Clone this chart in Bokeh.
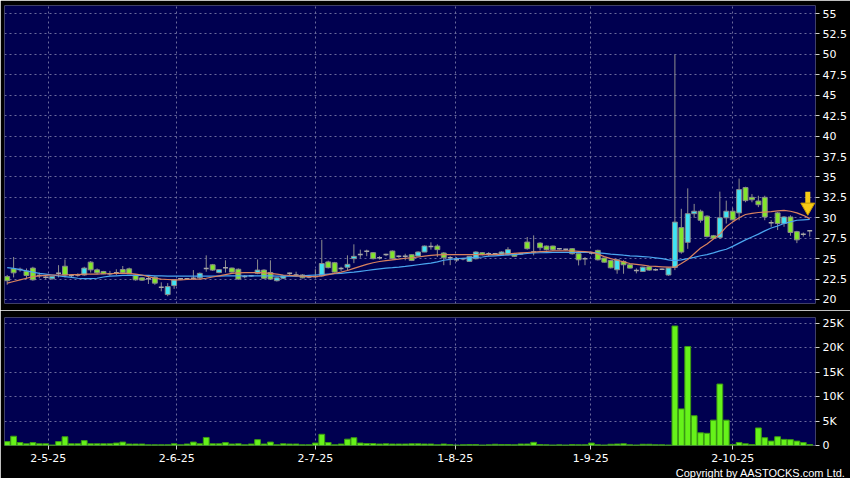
from bokeh.plotting import figure
from bokeh.layouts import column
from bokeh.models import (Range1d, FixedTicker, Grid, Title, ColumnDataSource,
                          NumeralTickFormatter)
from bokeh.embed import file_html
from bokeh.resources import INLINE

# ---------------- data ----------------
tick_pos = [6.4, 26.4, 48, 69.8, 90.9, 113]
tick_labels = ["2-5-25", "2-6-25", "2-7-25", "1-8-25", "1-9-25", "2-10-25"]

opens = [22.8, 23.75, 23.67, 23.47, 23.84, 22.94, 22.73, 22.53, 23.2, 24.07,
         22.94, 23.0, 23.0, 24.57, 23.63, 23.43, 23.14, 23.26, 23.67, 23.75,
         23.0, 22.65, 22.53, 22.73, 21.5, 20.6, 21.7, 22.53, 22.53, 22.6,
         22.65, 23.8, 24.25, 23.3, 23.9, 23.85, 23.7, 22.8, 22.9, 23.2,
         23.6, 23.3, 22.3, 22.6, 23.2, 23.0, 23.0, 22.75, 22.8, 22.9,
         24.6, 24.5, 23.8, 23.95, 25.0, 25.5, 25.9, 25.73, 25.1, 25.5,
         25.93, 25.3, 25.3, 25.48, 25.32, 25.81, 26.5, 26.54, 25.69, 25.1,
         24.86, 25.0, 24.66, 24.99, 25.73, 25.6, 25.6, 25.48, 25.48, 25.6,
         25.6, 27.03, 25.8, 26.9, 26.54, 26.54, 26.2, 26.14, 26.22, 25.6,
         25.0, 25.7, 26.01, 25.07, 24.78, 23.64, 24.66, 24.25, 23.56, 23.43,
         24.0, 23.65, 23.7, 23.0, 23.93, 28.8, 27.0, 30.5, 30.8, 30.2,
         27.8, 27.6, 30.0, 30.8, 30.6, 33.7, 32.5, 32.05, 32.5, 29.4,
         30.6, 29.3, 30.1, 28.3, 28.0, 28.4]
highs = [23.0, 25.2, 23.9, 23.8, 24.0, 23.3, 23.0, 22.9, 24.2, 24.9,
         23.1, 23.2, 24.0, 24.7, 23.8, 23.5, 23.5, 23.7, 24.1, 23.9,
         23.1, 22.7, 22.8, 22.9, 22.1, 22.0, 22.5, 22.6, 22.6, 23.6,
         23.3, 25.4, 24.35, 23.7, 24.8, 23.9, 23.8, 23.0, 23.0, 24.9,
         23.7, 24.8, 22.7, 23.0, 23.3, 23.4, 23.1, 22.9, 23.7, 27.3,
         24.75, 24.6, 24.0, 25.4, 26.75, 26.1, 26.1, 25.8, 25.3, 25.6,
         26.0, 25.4, 25.6, 25.5, 25.9, 26.6, 27.0, 26.75, 25.8, 25.3,
         25.2, 25.1, 25.3, 25.9, 25.8, 25.8, 25.7, 25.9, 26.4, 25.7,
         25.7, 27.65, 27.85, 27.0, 26.6, 26.6, 26.3, 26.2, 26.3, 25.6,
         25.2, 25.8, 26.1, 25.1, 24.8, 24.9, 24.8, 24.3, 23.8, 24.0,
         24.1, 23.8, 23.8, 23.9, 50.0, 31.1, 33.6, 31.7, 31.0, 30.3,
         27.9, 33.2, 32.1, 31.2, 34.8, 33.8, 32.9, 32.7, 32.7, 29.7,
         30.7, 30.2, 30.3, 28.4, 28.2, 28.5]
lows = [21.8, 22.7, 23.4, 22.5, 22.3, 22.6, 22.5, 22.45, 22.7, 22.7,
        22.7, 22.8, 22.9, 23.3, 23.1, 23.1, 22.9, 23.0, 23.2, 23.1,
        22.3, 22.3, 21.9, 21.8, 21.0, 20.4, 21.3, 22.4, 22.4, 22.4,
        22.5, 23.4, 23.5, 23.2, 23.3, 23.3, 22.4, 22.6, 22.8, 23.1,
        22.5, 22.4, 22.2, 22.5, 23.0, 22.8, 22.6, 22.6, 22.6, 22.8,
        23.8, 23.3, 23.5, 23.6, 24.45, 25.1, 25.3, 24.9, 24.9, 25.3,
        24.9, 25.1, 24.8, 24.7, 25.3, 25.8, 26.1, 25.2, 24.2, 24.2,
        24.6, 24.8, 24.6, 24.9, 25.4, 25.3, 25.5, 25.4, 25.4, 25.2,
        25.5, 26.1, 25.4, 26.0, 26.0, 26.0, 26.1, 26.0, 25.5, 24.17,
        24.2, 25.5, 24.78, 24.5, 23.8, 23.15, 23.15, 23.8, 23.2, 23.4,
        23.5, 23.5, 23.6, 22.9, 23.6, 25.6, 26.2, 30.0, 29.4, 27.6,
        27.4, 27.4, 29.3, 29.7, 29.7, 31.9, 31.9, 31.3, 29.7, 28.9,
        28.5, 28.9, 27.8, 26.9, 27.7, 27.7]
closes = [22.3, 23.26, 23.67, 22.94, 22.41, 22.94, 22.73, 22.82, 23.2, 23.0,
          22.94, 23.0, 23.84, 23.63, 23.26, 23.14, 23.14, 23.26, 23.26, 23.14,
          22.41, 22.37, 22.53, 22.0, 21.5, 21.58, 22.41, 22.53, 22.53, 22.6,
          23.2, 23.8, 23.6, 23.65, 23.9, 23.35, 22.5, 22.8, 22.9, 23.6,
          22.6, 22.5, 22.65, 22.9, 23.2, 23.0, 22.65, 22.75, 22.8, 24.4,
          23.9, 23.35, 23.8, 24.3, 25.28, 25.5, 25.9, 25.0, 25.1, 25.5,
          25.0, 25.3, 25.3, 24.78, 25.81, 26.54, 26.5, 26.1, 25.11, 25.1,
          24.86, 25.0, 25.28, 25.81, 25.48, 25.6, 25.6, 25.81, 26.1, 25.28,
          25.6, 26.22, 25.8, 26.34, 26.1, 26.1, 26.2, 26.14, 25.6, 24.86,
          25.0, 25.7, 24.86, 24.57, 23.88, 24.86, 24.25, 23.84, 23.56, 23.96,
          23.6, 23.65, 23.7, 23.85, 29.47, 25.8, 30.5, 30.8, 29.7, 27.7,
          27.5, 30.0, 30.8, 29.75, 33.45, 32.1, 32.2, 31.6, 30.1, 29.4,
          29.3, 30.1, 28.2, 27.3, 28.0, 28.4]

ma_short = [22.0, 22.2, 22.4, 22.6, 22.8, 22.9, 22.95, 23.0, 23.0, 23.0,
            23.05, 23.05, 23.1, 23.1, 23.1, 23.15, 23.15, 23.2, 23.2, 23.2,
            23.1, 23.0, 22.8, 22.6, 22.5, 22.45, 22.4, 22.4, 22.45, 22.5,
            22.5, 22.6, 22.75, 22.9, 23.05, 23.2, 23.25, 23.3, 23.3, 23.3,
            23.25, 23.2, 23.1, 23.0, 22.95, 22.9, 22.85, 22.8, 22.8, 22.9,
            23.05, 23.2, 23.35, 23.55, 23.8, 24.05, 24.3, 24.5, 24.65, 24.75,
            24.85, 24.95, 25.05, 25.1, 25.2, 25.3, 25.4, 25.45, 25.5, 25.5,
            25.5, 25.5, 25.5, 25.5, 25.5, 25.5, 25.5, 25.55, 25.6, 25.65,
            25.7, 25.75, 25.8, 25.85, 25.9, 25.95, 25.95, 25.95, 25.95, 25.9,
            25.85, 25.8, 25.55, 25.25, 25.0, 24.8, 24.6, 24.4, 24.3, 24.2,
            24.1, 24.05, 24.0, 23.95, 23.95, 24.4, 24.9, 25.6, 26.3, 26.8,
            27.4, 28.0, 28.9, 29.5, 30.0, 30.4, 30.55, 30.65, 30.7, 30.75,
            30.85, 30.9, 30.8, 30.6, 30.3, 29.9]
ma_long = [23.9, 23.8, 23.65, 23.5, 23.35, 23.2, 23.1, 23.0, 22.9, 22.8,
           22.7, 22.6, 22.55, 22.55, 22.6, 22.75, 22.85, 22.9, 22.95, 22.95,
           22.95, 22.95, 22.95, 22.9, 22.9, 22.85, 22.85, 22.85, 22.85, 22.85,
           22.85, 22.85, 22.85, 22.85, 22.9, 22.9, 22.9, 22.9, 22.9, 22.9,
           22.9, 22.9, 22.85, 22.85, 22.85, 22.85, 22.9, 22.95, 23.0, 23.05,
           23.1, 23.15, 23.2, 23.3, 23.35, 23.45, 23.55, 23.65, 23.75, 23.85,
           23.9, 23.96, 24.05, 24.15, 24.25, 24.35, 24.45, 24.6, 24.8, 24.9,
           25.0, 25.05, 25.1, 25.15, 25.2, 25.3, 25.35, 25.4, 25.45, 25.5,
           25.55, 25.65, 25.7, 25.72, 25.74, 25.75, 25.75, 25.75, 25.75, 25.75,
           25.75, 25.75, 25.7, 25.65, 25.55, 25.5, 25.42, 25.35, 25.3, 25.25,
           25.2, 25.1, 25.0, 24.85, 24.75, 24.85, 25.0, 25.15, 25.35, 25.5,
           25.7, 25.95, 26.15, 26.5, 26.9, 27.3, 27.65, 28.0, 28.4, 28.75,
           29.0, 29.3, 29.5, 29.7, 29.75, 29.8]

vol_k = [0.8, 1.9, 0.6, 0.35, 0.6, 0.35, 0.35, 0.1, 0.8, 1.8,
         0.35, 0.35, 1.0, 0.35, 0.35, 0.35, 0.35, 0.5, 0.7, 0.3,
         0.3, 0.3, 0.15, 0.15, 0.15, 0.15, 0.35, 0.15, 0.3, 0.7,
         0.35, 1.65, 0.35, 0.35, 0.6, 0.3, 0.35, 0.15, 0.3, 1.2,
         0.3, 0.7, 0.15, 0.35, 0.3, 0.3, 0.15, 0.15, 0.5, 2.3,
         0.6, 0.15, 0.3, 1.3, 1.6, 0.5, 0.4, 0.4, 0.3, 0.35,
         0.3, 0.3, 0.3, 0.35, 0.35, 0.3, 0.3, 0.15, 0.3, 0.2,
         0.1, 0.15, 0.2, 0.2, 0.1, 0.15, 0.25, 0.2, 0.2, 0.15,
         0.3, 0.3, 0.65, 0.2, 0.15, 0.1, 0.15, 0.1, 0.2, 0.15,
         0.15, 0.5, 0.15, 0.1, 0.25, 0.3, 0.35, 0.15, 0.1, 0.25,
         0.25, 0.15, 0.15, 0.1, 24.5, 7.5, 20.3, 6.1, 2.6, 2.5,
         5.2, 12.6, 5.2, 0.2, 0.6, 0.35, 0.2, 3.6, 1.6, 0.9,
         1.8, 1.25, 1.2, 0.9, 0.6, 0.2]

price_ticks = [20, 22.5, 25, 27.5, 30, 32.5, 35, 37.5, 40, 42.5, 45, 47.5, 50, 52.5, 55]
vol_ticks = [0, 5, 10, 15, 20, 25]
vol_tick_labels = ["0", "5K", "10K", "15K", "20K", "25K"]

# arrow marker (annotation) position
arrow_idx = 124.7
arrow_top = 33.2
arrow_head = 31.3

# ---------------- styles ----------------
BG = "#000050"
OUT = "#000000"
GRID = "#6a6a9c"
UP = "#3fe3f3"
DOWN = "#82e62c"
FLAT = "#a8a8a8"
FONT = "DejaVu Sans"

n = len(closes)
xs = list(range(n))
body = dict(x=[], top=[], bottom=[], color=[])
doji = dict(x0=[], x1=[], y=[])
for i in xs:
    o, c = opens[i], closes[i]
    if o == c:
        doji["x0"].append(i - 0.38)
        doji["x1"].append(i + 0.38)
        doji["y"].append(c)
    else:
        body["x"].append(i)
        body["top"].append(max(o, c))
        body["bottom"].append(min(o, c))
        body["color"].append(UP if c > o else DOWN)

xr = Range1d(-0.42, 125.9)


def style(p):
    p.background_fill_color = BG
    p.border_fill_color = OUT
    p.outline_line_color = None
    p.yaxis.axis_line_color = None
    p.yaxis.major_tick_line_color = "#d0d0d0"
    p.yaxis.major_tick_out = 4
    p.yaxis.major_tick_in = 0
    p.yaxis.minor_tick_line_color = None
    p.yaxis.major_label_text_color = "#ffffff"
    p.yaxis.major_label_text_font = FONT
    p.yaxis.major_label_text_font_size = "11px"
    p.yaxis.major_label_standoff = 3
    p.ygrid.grid_line_color = GRID
    p.ygrid.grid_line_dash = "2 3"
    p.ygrid.grid_line_width = 1
    p.xgrid.visible = False
    p.add_layout(Grid(dimension=0, ticker=FixedTicker(ticks=tick_pos),
                      grid_line_color=GRID, grid_line_dash="2 3", grid_line_width=1))


# ---------------- price panel ----------------
p1 = figure(width=850, height=310, x_range=xr, y_range=Range1d(19.51, 55.98),
            output_backend="svg", toolbar_location=None,
            x_axis_location=None, y_axis_location="right",
            min_border_left=4, min_border_right=35, min_border_top=5, min_border_bottom=7)
style(p1)
p1.yaxis.ticker = FixedTicker(ticks=price_ticks)
p1.yaxis.formatter = NumeralTickFormatter(format="0.[0]")

p1.segment(x0=xs, y0=lows, x1=xs, y1=highs, line_color="#8e8e8e", line_width=1)
p1.vbar(x="x", top="top", bottom="bottom", width=0.76, fill_color="color",
        line_color="#8a8a8a", line_width=1, source=ColumnDataSource(body))
p1.segment(x0="x0", y0="y", x1="x1", y1="y", line_color=FLAT, line_width=1.5,
           source=ColumnDataSource(doji))
p1.line(xs, ma_long, line_color="#4aa6f0", line_width=1.2)
p1.line(xs, ma_short, line_color="#d9825e", line_width=1.2)

# yellow arrow
p1.segment(x0=[arrow_idx], y0=[arrow_top], x1=[arrow_idx], y1=[arrow_head + 0.4],
           line_color="#f7cb16", line_width=5)
p1.scatter([arrow_idx], [arrow_head], marker="inverted_triangle", size=14,
           fill_color="#f7cb16", line_color="#c89a00", line_width=1)

# ---------------- volume panel ----------------
p2 = figure(width=850, height=168, x_range=xr, y_range=Range1d(0, 26.24),
            output_backend="svg", toolbar_location=None,
            y_axis_location="right",
            min_border_left=4, min_border_right=35, min_border_top=7, min_border_bottom=0)
style(p2)
p2.yaxis.ticker = FixedTicker(ticks=vol_ticks)
p2.yaxis.major_label_overrides = {t: l for t, l in zip(vol_ticks, vol_tick_labels)}
p2.xaxis.ticker = FixedTicker(ticks=tick_pos)
p2.xaxis.major_label_overrides = {t: l for t, l in zip(tick_pos, tick_labels)}
p2.xaxis.axis_line_color = None
p2.xaxis.major_tick_line_color = "#d0d0d0"
p2.xaxis.major_tick_out = 4
p2.xaxis.major_tick_in = 0
p2.xaxis.minor_tick_line_color = None
p2.xaxis.major_label_text_color = "#ffffff"
p2.xaxis.major_label_text_font = FONT
p2.xaxis.major_label_text_font_size = "11px"
p2.xaxis.major_label_standoff = 4

p2.vbar(x=xs, top=vol_k, width=0.9, fill_color="#66f21a", line_color="#3c9c12", line_width=1)

p2.add_layout(Title(text="Copyright by AASTOCKS.com Ltd.", align="right",
                    text_color="#ffffff", text_font="Liberation Sans",
                    text_font_size="11px", text_font_style="normal",
                    standoff=0, offset=-30),
              "below")

layout = column(p1, p2, spacing=0)
open("out.html", "w").write(file_html(layout, INLINE))
